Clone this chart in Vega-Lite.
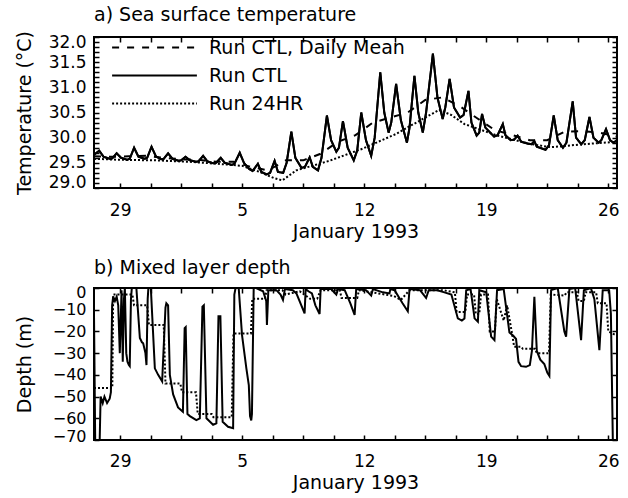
{
  "$schema": "https://vega.github.io/schema/vega-lite/v6.json",
  "padding": {"left": 14, "top": 4, "right": 5, "bottom": 5},
  "background": "white",
  "config": {
    "font": "DejaVu Sans",
    "view": {"stroke": "black", "strokeWidth": 2},
    "axis": {"labelFont": "DejaVu Sans", "labelFontSize": 17, "labelColor": "black", "titleFont": "DejaVu Sans", "titleFontSize": 19, "titleFontWeight": "normal", "titleColor": "black", "grid": false, "domain": false, "tickColor": "black", "tickWidth": 1.5, "labelOverlap": false, "offset": -5, "tickSize": 5},
    "title": {"font": "DejaVu Sans", "fontSize": 19, "fontWeight": "normal", "anchor": "start", "color": "black", "frame": "group"},
    "concat": {"spacing": 16}
  },
  "datasets": {
    "sst": [
      {"day": -3.5, "temp": 29.66, "run": "Run CTL"}, {"day": -3.2, "temp": 29.74, "run": "Run CTL"}, {"day": -2.95, "temp": 29.62, "run": "Run CTL"}, {"day": -2.6, "temp": 29.58, "run": "Run CTL"}, {"day": -2.45, "temp": 29.59, "run": "Run CTL"}, {"day": -2.2, "temp": 29.69, "run": "Run CTL"}, {"day": -1.95, "temp": 29.6, "run": "Run CTL"}, {"day": -1.6, "temp": 29.56, "run": "Run CTL"}, {"day": -1.45, "temp": 29.58, "run": "Run CTL"}, {"day": -1.2, "temp": 29.8, "run": "Run CTL"}, {"day": -0.95, "temp": 29.62, "run": "Run CTL"}, {"day": -0.6, "temp": 29.58, "run": "Run CTL"}, {"day": -0.45, "temp": 29.6, "run": "Run CTL"}, {"day": -0.2, "temp": 29.82, "run": "Run CTL"}, {"day": 0.05, "temp": 29.63, "run": "Run CTL"}, {"day": 0.35, "temp": 29.57, "run": "Run CTL"}, {"day": 0.5, "temp": 29.58, "run": "Run CTL"}, {"day": 0.75, "temp": 29.69, "run": "Run CTL"}, {"day": 1.0, "temp": 29.58, "run": "Run CTL"}, {"day": 1.35, "temp": 29.54, "run": "Run CTL"}, {"day": 1.5, "temp": 29.55, "run": "Run CTL"}, {"day": 1.75, "temp": 29.62, "run": "Run CTL"}, {"day": 2.0, "temp": 29.55, "run": "Run CTL"}, {"day": 2.35, "temp": 29.52, "run": "Run CTL"}, {"day": 2.5, "temp": 29.53, "run": "Run CTL"}, {"day": 2.76, "temp": 29.64, "run": "Run CTL"}, {"day": 3.0, "temp": 29.53, "run": "Run CTL"}, {"day": 3.35, "temp": 29.49, "run": "Run CTL"}, {"day": 3.5, "temp": 29.5, "run": "Run CTL"}, {"day": 3.77, "temp": 29.6, "run": "Run CTL"}, {"day": 4.0, "temp": 29.5, "run": "Run CTL"}, {"day": 4.4, "temp": 29.46, "run": "Run CTL"}, {"day": 4.55, "temp": 29.48, "run": "Run CTL"}, {"day": 4.86, "temp": 29.7, "run": "Run CTL"}, {"day": 5.1, "temp": 29.5, "run": "Run CTL"}, {"day": 5.4, "temp": 29.38, "run": "Run CTL"}, {"day": 5.6, "temp": 29.34, "run": "Run CTL"}, {"day": 5.9, "temp": 29.48, "run": "Run CTL"}, {"day": 6.1, "temp": 29.32, "run": "Run CTL"}, {"day": 6.4, "temp": 29.27, "run": "Run CTL"}, {"day": 6.6, "temp": 29.3, "run": "Run CTL"}, {"day": 6.86, "temp": 29.54, "run": "Run CTL"}, {"day": 7.05, "temp": 29.32, "run": "Run CTL"}, {"day": 7.35, "temp": 29.3, "run": "Run CTL"}, {"day": 7.55, "temp": 29.5, "run": "Run CTL"}, {"day": 7.82, "temp": 30.12, "run": "Run CTL"}, {"day": 8.05, "temp": 29.6, "run": "Run CTL"}, {"day": 8.4, "temp": 29.4, "run": "Run CTL"}, {"day": 8.6, "temp": 29.42, "run": "Run CTL"}, {"day": 8.87, "temp": 29.61, "run": "Run CTL"}, {"day": 9.05, "temp": 29.42, "run": "Run CTL"}, {"day": 9.35, "temp": 29.35, "run": "Run CTL"}, {"day": 9.55, "temp": 29.6, "run": "Run CTL"}, {"day": 9.86, "temp": 30.44, "run": "Run CTL"}, {"day": 10.1, "temp": 29.95, "run": "Run CTL"}, {"day": 10.4, "temp": 29.72, "run": "Run CTL"}, {"day": 10.55, "temp": 29.8, "run": "Run CTL"}, {"day": 10.78, "temp": 30.33, "run": "Run CTL"}, {"day": 11.05, "temp": 29.8, "run": "Run CTL"}, {"day": 11.4, "temp": 29.55, "run": "Run CTL"}, {"day": 11.6, "temp": 29.75, "run": "Run CTL"}, {"day": 11.83, "temp": 30.5, "run": "Run CTL"}, {"day": 12.1, "temp": 29.95, "run": "Run CTL"}, {"day": 12.4, "temp": 29.64, "run": "Run CTL"}, {"day": 12.6, "temp": 30.0, "run": "Run CTL"}, {"day": 12.92, "temp": 31.3, "run": "Run CTL"}, {"day": 13.15, "temp": 30.5, "run": "Run CTL"}, {"day": 13.4, "temp": 30.1, "run": "Run CTL"}, {"day": 13.55, "temp": 30.3, "run": "Run CTL"}, {"day": 13.83, "temp": 31.07, "run": "Run CTL"}, {"day": 14.1, "temp": 30.35, "run": "Run CTL"}, {"day": 14.45, "temp": 29.9, "run": "Run CTL"}, {"day": 14.6, "temp": 30.2, "run": "Run CTL"}, {"day": 14.88, "temp": 31.23, "run": "Run CTL"}, {"day": 15.1, "temp": 30.5, "run": "Run CTL"}, {"day": 15.36, "temp": 30.1, "run": "Run CTL"}, {"day": 15.55, "temp": 30.5, "run": "Run CTL"}, {"day": 15.94, "temp": 31.67, "run": "Run CTL"}, {"day": 16.2, "temp": 30.8, "run": "Run CTL"}, {"day": 16.5, "temp": 30.37, "run": "Run CTL"}, {"day": 16.65, "temp": 30.6, "run": "Run CTL"}, {"day": 16.9, "temp": 31.17, "run": "Run CTL"}, {"day": 17.15, "temp": 30.6, "run": "Run CTL"}, {"day": 17.5, "temp": 30.4, "run": "Run CTL"}, {"day": 17.7, "temp": 30.45, "run": "Run CTL"}, {"day": 17.98, "temp": 30.93, "run": "Run CTL"}, {"day": 18.15, "temp": 30.3, "run": "Run CTL"}, {"day": 18.45, "temp": 30.04, "run": "Run CTL"}, {"day": 18.6, "temp": 30.1, "run": "Run CTL"}, {"day": 18.76, "temp": 30.47, "run": "Run CTL"}, {"day": 18.95, "temp": 30.2, "run": "Run CTL"}, {"day": 19.45, "temp": 30.02, "run": "Run CTL"}, {"day": 19.65, "temp": 30.05, "run": "Run CTL"}, {"day": 19.95, "temp": 30.27, "run": "Run CTL"}, {"day": 20.1, "temp": 30.05, "run": "Run CTL"}, {"day": 20.4, "temp": 29.95, "run": "Run CTL"}, {"day": 20.6, "temp": 29.96, "run": "Run CTL"}, {"day": 20.8, "temp": 30.04, "run": "Run CTL"}, {"day": 21.0, "temp": 29.92, "run": "Run CTL"}, {"day": 21.4, "temp": 29.88, "run": "Run CTL"}, {"day": 21.6, "temp": 29.87, "run": "Run CTL"}, {"day": 21.76, "temp": 29.93, "run": "Run CTL"}, {"day": 21.9, "temp": 29.82, "run": "Run CTL"}, {"day": 22.4, "temp": 29.76, "run": "Run CTL"}, {"day": 22.6, "temp": 29.85, "run": "Run CTL"}, {"day": 22.87, "temp": 30.44, "run": "Run CTL"}, {"day": 23.1, "temp": 29.95, "run": "Run CTL"}, {"day": 23.4, "temp": 29.8, "run": "Run CTL"}, {"day": 23.6, "temp": 29.9, "run": "Run CTL"}, {"day": 23.96, "temp": 30.72, "run": "Run CTL"}, {"day": 24.15, "temp": 30.0, "run": "Run CTL"}, {"day": 24.45, "temp": 29.87, "run": "Run CTL"}, {"day": 24.65, "temp": 29.95, "run": "Run CTL"}, {"day": 24.92, "temp": 30.41, "run": "Run CTL"}, {"day": 25.15, "temp": 30.0, "run": "Run CTL"}, {"day": 25.45, "temp": 29.9, "run": "Run CTL"}, {"day": 25.6, "temp": 29.95, "run": "Run CTL"}, {"day": 25.87, "temp": 30.17, "run": "Run CTL"}, {"day": 26.1, "temp": 29.95, "run": "Run CTL"}, {"day": 26.3, "temp": 29.9, "run": "Run CTL"}, {"day": 26.5, "temp": 29.95, "run": "Run CTL"},

      {"day": -3.5, "temp": 29.63, "run": "Run CTL, Daily Mean"}, {"day": -2.5, "temp": 29.62, "run": "Run CTL, Daily Mean"}, {"day": -1.5, "temp": 29.63, "run": "Run CTL, Daily Mean"}, {"day": -0.5, "temp": 29.64, "run": "Run CTL, Daily Mean"}, {"day": 0.5, "temp": 29.6, "run": "Run CTL, Daily Mean"}, {"day": 1.5, "temp": 29.57, "run": "Run CTL, Daily Mean"}, {"day": 2.5, "temp": 29.56, "run": "Run CTL, Daily Mean"}, {"day": 3.5, "temp": 29.52, "run": "Run CTL, Daily Mean"}, {"day": 4.5, "temp": 29.52, "run": "Run CTL, Daily Mean"}, {"day": 5.5, "temp": 29.42, "run": "Run CTL, Daily Mean"}, {"day": 6.5, "temp": 29.35, "run": "Run CTL, Daily Mean"}, {"day": 7.5, "temp": 29.55, "run": "Run CTL, Daily Mean"}, {"day": 8.5, "temp": 29.55, "run": "Run CTL, Daily Mean"}, {"day": 9.5, "temp": 29.68, "run": "Run CTL, Daily Mean"}, {"day": 10.5, "temp": 29.92, "run": "Run CTL, Daily Mean"}, {"day": 11.5, "temp": 30.05, "run": "Run CTL, Daily Mean"}, {"day": 12.5, "temp": 30.3, "run": "Run CTL, Daily Mean"}, {"day": 13.5, "temp": 30.4, "run": "Run CTL, Daily Mean"}, {"day": 14.5, "temp": 30.5, "run": "Run CTL, Daily Mean"}, {"day": 15.5, "temp": 30.75, "run": "Run CTL, Daily Mean"}, {"day": 16.5, "temp": 30.8, "run": "Run CTL, Daily Mean"}, {"day": 17.5, "temp": 30.62, "run": "Run CTL, Daily Mean"}, {"day": 18.5, "temp": 30.38, "run": "Run CTL, Daily Mean"}, {"day": 19.5, "temp": 30.15, "run": "Run CTL, Daily Mean"}, {"day": 20.5, "temp": 30.05, "run": "Run CTL, Daily Mean"}, {"day": 21.5, "temp": 29.95, "run": "Run CTL, Daily Mean"}, {"day": 22.5, "temp": 29.95, "run": "Run CTL, Daily Mean"}, {"day": 23.5, "temp": 30.12, "run": "Run CTL, Daily Mean"}, {"day": 24.5, "temp": 30.13, "run": "Run CTL, Daily Mean"}, {"day": 25.5, "temp": 30.1, "run": "Run CTL, Daily Mean"}, {"day": 26.5, "temp": 30.02, "run": "Run CTL, Daily Mean"},

      {"day": -3.5, "temp": 29.58, "run": "Run 24HR"}, {"day": -2.0, "temp": 29.56, "run": "Run 24HR"}, {"day": 0.0, "temp": 29.55, "run": "Run 24HR"}, {"day": 2.0, "temp": 29.52, "run": "Run 24HR"}, {"day": 4.0, "temp": 29.47, "run": "Run 24HR"}, {"day": 5.0, "temp": 29.44, "run": "Run 24HR"}, {"day": 6.0, "temp": 29.32, "run": "Run 24HR"}, {"day": 6.8, "temp": 29.2, "run": "Run 24HR"}, {"day": 7.3, "temp": 29.15, "run": "Run 24HR"}, {"day": 8.1, "temp": 29.35, "run": "Run 24HR"}, {"day": 10.0, "temp": 29.54, "run": "Run 24HR"}, {"day": 11.9, "temp": 29.78, "run": "Run 24HR"}, {"day": 13.8, "temp": 30.07, "run": "Run 24HR"}, {"day": 15.5, "temp": 30.4, "run": "Run 24HR"}, {"day": 16.3, "temp": 30.55, "run": "Run 24HR"}, {"day": 17.0, "temp": 30.45, "run": "Run 24HR"}, {"day": 17.75, "temp": 30.27, "run": "Run 24HR"}, {"day": 19.65, "temp": 30.04, "run": "Run 24HR"}, {"day": 21.6, "temp": 29.87, "run": "Run 24HR"}, {"day": 22.7, "temp": 29.81, "run": "Run 24HR"}, {"day": 24.6, "temp": 29.87, "run": "Run 24HR"}, {"day": 26.5, "temp": 29.92, "run": "Run 24HR"}
    ],
    "mld": [
      {"day": -3.5, "depth": -12, "run": "Run CTL"}, {"day": -3.42, "depth": -80, "run": "Run CTL"}, {"day": -3.2, "depth": -80, "run": "Run CTL"}, {"day": -3.12, "depth": -50, "run": "Run CTL"}, {"day": -3.0, "depth": -53, "run": "Run CTL"}, {"day": -2.9, "depth": -50, "run": "Run CTL"}, {"day": -2.75, "depth": -53, "run": "Run CTL"}, {"day": -2.6, "depth": -51, "run": "Run CTL"}, {"day": -2.53, "depth": -48, "run": "Run CTL"}, {"day": -2.46, "depth": -8, "run": "Run CTL"}, {"day": -2.4, "depth": -4, "run": "Run CTL"}, {"day": -2.3, "depth": -6, "run": "Run CTL"}, {"day": -2.2, "depth": -4, "run": "Run CTL"}, {"day": -2.11, "depth": -8, "run": "Run CTL"}, {"day": -2.02, "depth": -30, "run": "Run CTL"}, {"day": -1.95, "depth": -10, "run": "Run CTL"}, {"day": -1.92, "depth": -1, "run": "Run CTL"}, {"day": -1.85, "depth": -34, "run": "Run CTL"}, {"day": -1.78, "depth": -5, "run": "Run CTL"}, {"day": -1.73, "depth": 0, "run": "Run CTL"}, {"day": -1.65, "depth": -30, "run": "Run CTL"}, {"day": -1.58, "depth": -34, "run": "Run CTL"}, {"day": -1.5, "depth": -35.5, "run": "Run CTL"}, {"day": -1.45, "depth": -36, "run": "Run CTL"}, {"day": -1.38, "depth": -5, "run": "Run CTL"}, {"day": -1.33, "depth": 0, "run": "Run CTL"}, {"day": -1.07, "depth": 0, "run": "Run CTL"}, {"day": -0.87, "depth": -23, "run": "Run CTL"}, {"day": -0.75, "depth": -25, "run": "Run CTL"}, {"day": -0.68, "depth": -25.5, "run": "Run CTL"}, {"day": -0.55, "depth": -30, "run": "Run CTL"}, {"day": -0.49, "depth": -35.5, "run": "Run CTL"}, {"day": -0.42, "depth": -5, "run": "Run CTL"}, {"day": -0.38, "depth": 0, "run": "Run CTL"}, {"day": -0.24, "depth": 0, "run": "Run CTL"}, {"day": -0.01, "depth": -37, "run": "Run CTL"}, {"day": 0.18, "depth": -40, "run": "Run CTL"}, {"day": 0.41, "depth": -43, "run": "Run CTL"}, {"day": 0.6, "depth": -9, "run": "Run CTL"}, {"day": 0.65, "depth": -7, "run": "Run CTL"}, {"day": 0.75, "depth": -8, "run": "Run CTL"}, {"day": 0.85, "depth": -40, "run": "Run CTL"}, {"day": 1.04, "depth": -49, "run": "Run CTL"}, {"day": 1.32, "depth": -55, "run": "Run CTL"}, {"day": 1.6, "depth": -57, "run": "Run CTL"}, {"day": 1.7, "depth": -18.5, "run": "Run CTL"}, {"day": 1.76, "depth": -18, "run": "Run CTL"}, {"day": 1.86, "depth": -58, "run": "Run CTL"}, {"day": 2.0, "depth": -59, "run": "Run CTL"}, {"day": 2.37, "depth": -60.8, "run": "Run CTL"}, {"day": 2.57, "depth": -60, "run": "Run CTL"}, {"day": 2.72, "depth": -8.6, "run": "Run CTL"}, {"day": 2.8, "depth": -8, "run": "Run CTL"}, {"day": 2.95, "depth": -60, "run": "Run CTL"}, {"day": 3.33, "depth": -63, "run": "Run CTL"}, {"day": 3.52, "depth": -62.3, "run": "Run CTL"}, {"day": 3.64, "depth": -13, "run": "Run CTL"}, {"day": 3.75, "depth": -13, "run": "Run CTL"}, {"day": 3.88, "depth": -61.6, "run": "Run CTL"}, {"day": 4.19, "depth": -63.9, "run": "Run CTL"}, {"day": 4.48, "depth": -64.6, "run": "Run CTL"}, {"day": 4.55, "depth": -3, "run": "Run CTL"}, {"day": 4.62, "depth": 0, "run": "Run CTL"}, {"day": 4.8, "depth": 0, "run": "Run CTL"}, {"day": 4.99, "depth": -21.6, "run": "Run CTL"}, {"day": 5.24, "depth": -37, "run": "Run CTL"}, {"day": 5.38, "depth": -44.7, "run": "Run CTL"}, {"day": 5.45, "depth": -59, "run": "Run CTL"}, {"day": 5.52, "depth": -61, "run": "Run CTL"}, {"day": 5.56, "depth": -58, "run": "Run CTL"}, {"day": 5.66, "depth": 0, "run": "Run CTL"}, {"day": 5.8, "depth": 0, "run": "Run CTL"}, {"day": 6.2, "depth": -1.5, "run": "Run CTL"}, {"day": 6.38, "depth": -6, "run": "Run CTL"}, {"day": 6.42, "depth": -17, "run": "Run CTL"}, {"day": 6.5, "depth": -1, "run": "Run CTL"}, {"day": 6.96, "depth": -1, "run": "Run CTL"}, {"day": 7.2, "depth": -3, "run": "Run CTL"}, {"day": 7.34, "depth": -5.5, "run": "Run CTL"}, {"day": 7.45, "depth": -0.5, "run": "Run CTL"}, {"day": 7.9, "depth": -1, "run": "Run CTL"}, {"day": 8.11, "depth": -2.5, "run": "Run CTL"}, {"day": 8.58, "depth": -11.7, "run": "Run CTL"}, {"day": 8.64, "depth": -0.5, "run": "Run CTL"}, {"day": 8.8, "depth": -1.5, "run": "Run CTL"}, {"day": 9.0, "depth": -2.5, "run": "Run CTL"}, {"day": 9.2, "depth": -8, "run": "Run CTL"}, {"day": 9.44, "depth": -12, "run": "Run CTL"}, {"day": 9.5, "depth": -0.5, "run": "Run CTL"}, {"day": 10.1, "depth": -0.5, "run": "Run CTL"}, {"day": 10.4, "depth": -3, "run": "Run CTL"}, {"day": 10.5, "depth": -0.5, "run": "Run CTL"}, {"day": 10.88, "depth": -1, "run": "Run CTL"}, {"day": 11.2, "depth": -7, "run": "Run CTL"}, {"day": 11.45, "depth": -12.4, "run": "Run CTL"}, {"day": 11.54, "depth": -0.5, "run": "Run CTL"}, {"day": 12.1, "depth": -1, "run": "Run CTL"}, {"day": 12.4, "depth": -3.5, "run": "Run CTL"}, {"day": 12.5, "depth": -0.5, "run": "Run CTL"}, {"day": 13.07, "depth": -2, "run": "Run CTL"}, {"day": 13.45, "depth": -2.5, "run": "Run CTL"}, {"day": 13.5, "depth": -0.5, "run": "Run CTL"}, {"day": 13.74, "depth": -1, "run": "Run CTL"}, {"day": 14.2, "depth": -7, "run": "Run CTL"}, {"day": 14.5, "depth": -10.7, "run": "Run CTL"}, {"day": 14.6, "depth": -0.5, "run": "Run CTL"}, {"day": 15.2, "depth": -1, "run": "Run CTL"}, {"day": 15.55, "depth": -4.6, "run": "Run CTL"}, {"day": 15.7, "depth": -1, "run": "Run CTL"}, {"day": 16.2, "depth": -1, "run": "Run CTL"}, {"day": 16.6, "depth": -2, "run": "Run CTL"}, {"day": 17.0, "depth": -3, "run": "Run CTL"}, {"day": 17.37, "depth": -14, "run": "Run CTL"}, {"day": 17.6, "depth": -15, "run": "Run CTL"}, {"day": 17.75, "depth": -14, "run": "Run CTL"}, {"day": 17.85, "depth": -1, "run": "Run CTL"}, {"day": 18.1, "depth": -0.5, "run": "Run CTL"}, {"day": 18.33, "depth": -14, "run": "Run CTL"}, {"day": 18.52, "depth": -15.5, "run": "Run CTL"}, {"day": 18.6, "depth": -1, "run": "Run CTL"}, {"day": 19.0, "depth": -2, "run": "Run CTL"}, {"day": 19.28, "depth": -22.4, "run": "Run CTL"}, {"day": 19.47, "depth": -24, "run": "Run CTL"}, {"day": 19.62, "depth": -1, "run": "Run CTL"}, {"day": 20.0, "depth": -0.5, "run": "Run CTL"}, {"day": 20.33, "depth": -20.5, "run": "Run CTL"}, {"day": 20.55, "depth": -22, "run": "Run CTL"}, {"day": 20.71, "depth": -23.5, "run": "Run CTL"}, {"day": 20.85, "depth": -34, "run": "Run CTL"}, {"day": 21.0, "depth": -36, "run": "Run CTL"}, {"day": 21.28, "depth": -36.3, "run": "Run CTL"}, {"day": 21.5, "depth": -35.5, "run": "Run CTL"}, {"day": 21.62, "depth": -29, "run": "Run CTL"}, {"day": 21.76, "depth": -4, "run": "Run CTL"}, {"day": 21.9, "depth": -29, "run": "Run CTL"}, {"day": 22.1, "depth": -33, "run": "Run CTL"}, {"day": 22.33, "depth": -35, "run": "Run CTL"}, {"day": 22.5, "depth": -39, "run": "Run CTL"}, {"day": 22.62, "depth": -40.5, "run": "Run CTL"}, {"day": 22.72, "depth": -1, "run": "Run CTL"}, {"day": 23.1, "depth": 0, "run": "Run CTL"}, {"day": 23.48, "depth": -20, "run": "Run CTL"}, {"day": 23.58, "depth": -22.4, "run": "Run CTL"}, {"day": 23.77, "depth": -0.5, "run": "Run CTL"}, {"day": 24.1, "depth": 0, "run": "Run CTL"}, {"day": 24.44, "depth": -24, "run": "Run CTL"}, {"day": 24.6, "depth": -1, "run": "Run CTL"}, {"day": 25.0, "depth": 0, "run": "Run CTL"}, {"day": 25.2, "depth": -5, "run": "Run CTL"}, {"day": 25.49, "depth": -28.6, "run": "Run CTL"}, {"day": 25.68, "depth": -1, "run": "Run CTL"}, {"day": 26.05, "depth": -1, "run": "Run CTL"}, {"day": 26.15, "depth": -12, "run": "Run CTL"}, {"day": 26.28, "depth": -80, "run": "Run CTL"}, {"day": 26.5, "depth": -80, "run": "Run CTL"},

      {"day": -3.5, "depth": -46, "run": "Run 24HR"}, {"day": -2.45, "depth": -46, "run": "Run 24HR"}, {"day": -2.4, "depth": -3, "run": "Run 24HR"}, {"day": -1.3, "depth": -3, "run": "Run 24HR"}, {"day": -1.2, "depth": -8, "run": "Run 24HR"}, {"day": -0.45, "depth": -8, "run": "Run 24HR"}, {"day": -0.35, "depth": -17, "run": "Run 24HR"}, {"day": 0.5, "depth": -17, "run": "Run 24HR"}, {"day": 0.6, "depth": -44, "run": "Run 24HR"}, {"day": 1.45, "depth": -44, "run": "Run 24HR"}, {"day": 1.55, "depth": -48, "run": "Run 24HR"}, {"day": 2.35, "depth": -48, "run": "Run 24HR"}, {"day": 2.45, "depth": -58, "run": "Run 24HR"}, {"day": 3.25, "depth": -58, "run": "Run 24HR"}, {"day": 3.35, "depth": -59.5, "run": "Run 24HR"}, {"day": 4.4, "depth": -59.5, "run": "Run 24HR"}, {"day": 4.5, "depth": -21, "run": "Run 24HR"}, {"day": 5.5, "depth": -21, "run": "Run 24HR"}, {"day": 5.58, "depth": -5, "run": "Run 24HR"}, {"day": 6.3, "depth": -5, "run": "Run 24HR"}, {"day": 6.4, "depth": -1, "run": "Run 24HR"}, {"day": 7.3, "depth": -1, "run": "Run 24HR"}, {"day": 7.5, "depth": -3, "run": "Run 24HR"}, {"day": 8.3, "depth": -1.5, "run": "Run 24HR"}, {"day": 8.9, "depth": -5, "run": "Run 24HR"}, {"day": 9.3, "depth": -5, "run": "Run 24HR"}, {"day": 9.5, "depth": -1, "run": "Run 24HR"}, {"day": 10.6, "depth": -1, "run": "Run 24HR"}, {"day": 10.7, "depth": -4.6, "run": "Run 24HR"}, {"day": 11.6, "depth": -4.6, "run": "Run 24HR"}, {"day": 11.7, "depth": -1, "run": "Run 24HR"}, {"day": 13.7, "depth": -3.7, "run": "Run 24HR"}, {"day": 14.1, "depth": -5.5, "run": "Run 24HR"}, {"day": 14.6, "depth": -1, "run": "Run 24HR"}, {"day": 16.5, "depth": -1, "run": "Run 24HR"}, {"day": 17.2, "depth": -2, "run": "Run 24HR"}, {"day": 17.3, "depth": -11, "run": "Run 24HR"}, {"day": 17.8, "depth": -11, "run": "Run 24HR"}, {"day": 17.9, "depth": -3, "run": "Run 24HR"}, {"day": 18.3, "depth": -3, "run": "Run 24HR"}, {"day": 18.4, "depth": -12, "run": "Run 24HR"}, {"day": 18.6, "depth": -12, "run": "Run 24HR"}, {"day": 18.7, "depth": -3, "run": "Run 24HR"}, {"day": 19.1, "depth": -3, "run": "Run 24HR"}, {"day": 19.2, "depth": -20, "run": "Run 24HR"}, {"day": 19.5, "depth": -20, "run": "Run 24HR"}, {"day": 19.6, "depth": -5, "run": "Run 24HR"}, {"day": 20.0, "depth": -15, "run": "Run 24HR"}, {"day": 20.2, "depth": -8, "run": "Run 24HR"}, {"day": 20.5, "depth": -22, "run": "Run 24HR"}, {"day": 20.6, "depth": -27, "run": "Run 24HR"}, {"day": 21.0, "depth": -27, "run": "Run 24HR"}, {"day": 21.1, "depth": -28, "run": "Run 24HR"}, {"day": 21.8, "depth": -28, "run": "Run 24HR"}, {"day": 21.9, "depth": -30, "run": "Run 24HR"}, {"day": 22.6, "depth": -30, "run": "Run 24HR"}, {"day": 22.7, "depth": -3, "run": "Run 24HR"}, {"day": 23.5, "depth": -3.5, "run": "Run 24HR"}, {"day": 23.6, "depth": -2, "run": "Run 24HR"}, {"day": 24.2, "depth": -2, "run": "Run 24HR"}, {"day": 24.3, "depth": -6, "run": "Run 24HR"}, {"day": 24.6, "depth": -6, "run": "Run 24HR"}, {"day": 24.7, "depth": -2, "run": "Run 24HR"}, {"day": 25.3, "depth": -2, "run": "Run 24HR"}, {"day": 25.4, "depth": -7, "run": "Run 24HR"}, {"day": 25.9, "depth": -7, "run": "Run 24HR"}, {"day": 26.0, "depth": -20, "run": "Run 24HR"}, {"day": 26.5, "depth": -22, "run": "Run 24HR"}
    ]
  },
  "vconcat": [
    {
      "width": 523,
      "height": 151,
      "title": {"text": "a) Sea surface temperature", "offset": 6},
      "data": {"name": "sst"},
      "layer": [
        {
          "mark": {"type": "line", "strokeWidth": 2, "color": "black", "clip": true},
          "encoding": {
            "x": {"field": "day", "type": "quantitative", "scale": {"domain": [-3.5, 26.5], "nice": false, "zero": false},
              "axis": {"orient": "bottom", "title": "January 1993", "values": [-2, -0.25, 1.5, 3.25, 5, 6.75, 8.5, 10.25, 12, 13.75, 15.5, 17.25, 19, 20.75, 22.5, 24.25, 26], "labelExpr": "(datum.value - 5) % 7 == 0 ? (datum.value < 0 ? datum.value + 31 : datum.value) : ''", "labelPadding": 14, "labelFlush": false, "titlePadding": 4}},
            "y": {"field": "temp", "type": "quantitative", "scale": {"domain": [29, 32], "nice": false, "zero": false},
              "axis": {"orient": "left", "title": "Temperature (°C)", "values": [29, 29.1, 29.2, 29.3, 29.4, 29.5, 29.6, 29.7, 29.8, 29.9, 30, 30.1, 30.2, 30.3, 30.4, 30.5, 30.6, 30.7, 30.8, 30.9, 31, 31.1, 31.2, 31.3, 31.4, 31.5, 31.6, 31.7, 31.8, 31.9, 32], "labelExpr": "abs(datum.value*2 - round(datum.value*2)) < 0.01 ? format(datum.value, '.1f') : ''", "labelFontSize": 17, "labelPadding": 8, "labelFlush": true, "labelFlushOffset": 3, "titlePadding": 14}},
            "strokeDash": {"field": "run", "type": "nominal",
              "scale": {"domain": ["Run CTL, Daily Mean", "Run CTL", "Run 24HR"], "range": [[7, 8], [1, 0], [2, 2]]},
              "legend": {"orient": "top-left", "title": null, "symbolType": "M-5.3,0H5.3", "symbolSize": 256, "symbolStrokeWidth": 2, "symbolStrokeColor": "black", "labelFont": "DejaVu Sans", "labelFontSize": 19, "labelColor": "black", "labelLimit": 400, "offset": 1, "padding": 0, "rowPadding": 8, "symbolOffset": 50, "labelOffset": 45}}
          }
        },
        {
          "transform": [{"filter": "datum.run == 'Run CTL'"}],
          "mark": {"type": "line", "strokeWidth": 2, "color": "black", "clip": true},
          "encoding": {
            "x": {"field": "day", "type": "quantitative",
              "axis": {"orient": "top", "title": null, "labels": false, "values": [-2, -0.25, 1.5, 3.25, 5, 6.75, 8.5, 10.25, 12, 13.75, 15.5, 17.25, 19, 20.75, 22.5, 24.25, 26]}},
            "y": {"field": "temp", "type": "quantitative",
              "axis": {"orient": "right", "title": null, "labels": false, "values": [29, 29.1, 29.2, 29.3, 29.4, 29.5, 29.6, 29.7, 29.8, 29.9, 30, 30.1, 30.2, 30.3, 30.4, 30.5, 30.6, 30.7, 30.8, 30.9, 31, 31.1, 31.2, 31.3, 31.4, 31.5, 31.6, 31.7, 31.8, 31.9, 32]}}
          }
        }
      ]
    },
    {
      "width": 523,
      "height": 152,
      "title": {"text": "b) Mixed layer depth", "offset": 6},
      "data": {"name": "mld"},
      "layer": [
        {
          "transform": [{"filter": "datum.run == 'Run CTL'"}],
          "mark": {"type": "line", "strokeWidth": 2, "color": "black", "clip": true},
          "encoding": {
            "x": {"field": "day", "type": "quantitative", "scale": {"domain": [-3.5, 26.5], "nice": false, "zero": false},
              "axis": {"orient": "bottom", "title": "January 1993", "values": [-2, -0.25, 1.5, 3.25, 5, 6.75, 8.5, 10.25, 12, 13.75, 15.5, 17.25, 19, 20.75, 22.5, 24.25, 26], "labelExpr": "(datum.value - 5) % 7 == 0 ? (datum.value < 0 ? datum.value + 31 : datum.value) : ''", "labelPadding": 13, "labelFlush": false, "titlePadding": 4}},
            "y": {"field": "depth", "type": "quantitative", "scale": {"domain": [-70, 0], "nice": false, "zero": false},
              "axis": {"orient": "left", "title": "Depth (m)", "values": [-70, -60, -50, -40, -30, -20, -10, 0], "labelFontSize": 16, "labelPadding": 8, "labelFlush": true, "labelFlushOffset": 4, "titlePadding": 18}}
          }
        },
        {
          "transform": [{"filter": "datum.run == 'Run 24HR'"}],
          "mark": {"type": "line", "strokeWidth": 2, "color": "black", "strokeDash": [2, 2], "clip": true},
          "encoding": {
            "x": {"field": "day", "type": "quantitative",
              "axis": {"orient": "top", "title": null, "labels": false, "values": [-2, -0.25, 1.5, 3.25, 5, 6.75, 8.5, 10.25, 12, 13.75, 15.5, 17.25, 19, 20.75, 22.5, 24.25, 26]}},
            "y": {"field": "depth", "type": "quantitative",
              "axis": {"orient": "right", "title": null, "labels": false, "values": [-70, -60, -50, -40, -30, -20, -10, 0]}}
          }
        }
      ]
    }
  ]
}
